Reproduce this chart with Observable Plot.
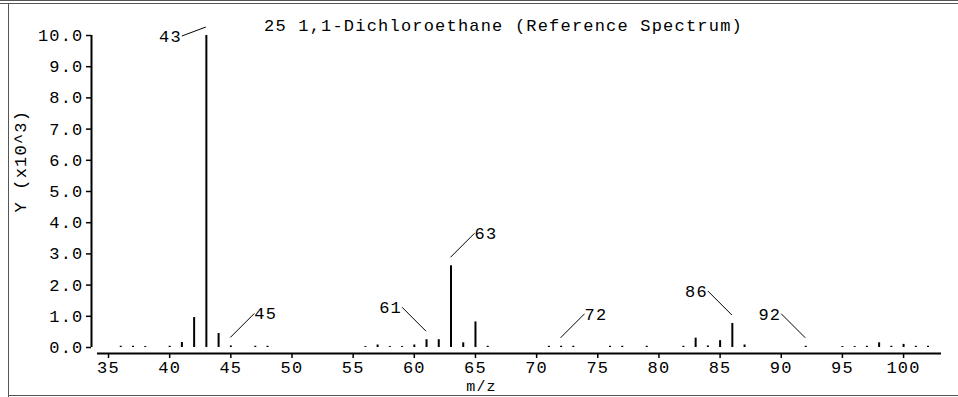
<!DOCTYPE html>
<html>
<head>
<meta charset="utf-8">
<script src="https://cdn.jsdelivr.net/npm/d3@7"></script>
<script src="https://cdn.jsdelivr.net/npm/@observablehq/plot@0.6"></script>
<style>
  html, body { margin: 0; padding: 0; background: #fff; }
  #wrap { position: relative; width: 958px; height: 397px; overflow: hidden; background: #fff; }
  .ln { position: absolute; background: #555; }
</style>
</head>
<body>
<div id="wrap">
  <div class="ln" style="left:0;top:0;width:958px;height:1px;"></div>
  <div class="ln" style="left:0;top:3px;width:958px;height:1px;"></div>
  <div class="ln" style="left:8px;top:3px;width:1px;height:394px;"></div>
  <div class="ln" style="left:8px;top:395px;width:950px;height:1px;"></div>
</div>
<script>
// ---- data ----
const title = "25 1,1-Dichloroethane (Reference Spectrum)";
const xLabel = "m/z";
const yLabel = "Y (x10^3)";
const mz = [36, 37, 38, 40, 41, 42, 43, 44, 45, 47, 48,
            56, 57, 58, 59, 60, 61, 62, 63, 64, 65, 66,
            71, 72, 73, 76, 77, 79, 82, 83, 84, 85, 86, 87,
            92, 95, 96, 97, 98, 99, 100, 101, 102];
const intensity = [0.04, 0.04, 0.03, 0.04, 0.16, 0.96, 10.0, 0.45, 0.05, 0.04, 0.04,
                   0.03, 0.08, 0.03, 0.03, 0.08, 0.25, 0.25, 2.62, 0.15, 0.82, 0.04,
                   0.04, 0.04, 0.04, 0.04, 0.04, 0.04, 0.04, 0.30, 0.05, 0.22, 0.77, 0.08,
                   0.04, 0.03, 0.03, 0.04, 0.15, 0.04, 0.10, 0.04, 0.04];
const labelMz = [43, 45, 61, 63, 72, 86, 92];
const labelSide = ["left", "right", "left", "right", "right", "left", "left"];
const xTicks = [35, 40, 45, 50, 55, 60, 65, 70, 75, 80, 85, 90, 95, 100];
const yTicks = [0, 1, 2, 3, 4, 5, 6, 7, 8, 9, 10];

// ---- build ----
const spectrum = mz.map((m, i) => ({mz: m, value: intensity[i]}));
const labels = labelMz.map((m, i) => ({mz: m, value: intensity[mz.indexOf(m)], side: labelSide[i]}));
const xDomain = [34.1, 103.1];
const yDomain = [-0.192, 10];
const font = "'Liberation Mono', 'DejaVu Sans Mono', monospace";

const leaders = (index, scales) => {
  const g = d3.create("svg:g");
  const x = scales.x, y = scales.y;
  const yTop = y(yDomain[1]);
  for (const d of labels) {
    const dir = d.side === "right" ? 1 : -1;
    const px = x(d.mz);
    const sy = y(d.value) - 8;
    const ex = px + dir * 24;
    const ey = Math.max(sy - 24, yTop + 1);
    g.append("line")
      .attr("x1", px).attr("y1", sy).attr("x2", ex).attr("y2", ey)
      .attr("stroke", "#000").attr("stroke-width", 1);
    g.append("text")
      .attr("x", ex).attr("y", ey)
      .attr("dy", "0.35em")
      .attr("text-anchor", dir > 0 ? "start" : "end")
      .attr("fill", "#000")
      .text(String(d.mz));
  }
  return g.node();
};

const chart = Plot.plot({
  width: 958,
  height: 397,
  marginLeft: 97,
  marginRight: 17,
  marginTop: 35,
  marginBottom: 44,
  x: {domain: xDomain},
  y: {domain: yDomain},
  style: {fontFamily: font, fontSize: "17px", letterSpacing: "1.2px", background: "transparent", color: "#000", overflow: "visible"},
  marks: [
    Plot.ruleY([yDomain[0]], {stroke: "#000", strokeWidth: 2}),
    Plot.ruleX([xDomain[0]], {y1: 0, y2: 10, dx: -6, stroke: "#000", strokeWidth: 2}),
    Plot.axisY(yTicks, {anchor: "left", tickSize: 5, dx: -6, tickPadding: 3, tickFormat: d => d.toFixed(1), label: null, stroke: "#000", strokeWidth: 1.5}),
    Plot.axisX(xTicks, {anchor: "bottom", tickSize: 5, tickPadding: 2, label: null, stroke: "#000", strokeWidth: 1.5}),
    Plot.ruleX(spectrum, {x: "mz", y1: 0, y2: "value", stroke: "#000", strokeWidth: 2}),
    leaders,
    Plot.text([title], {frameAnchor: "top", dx: -16, dy: -17, text: d => d, fill: "#000"}),
    Plot.text([xLabel], {frameAnchor: "bottom", dx: -38, dy: 33, lineAnchor: "middle", text: d => d, fill: "#000", fontSize: 15}),
    Plot.text([yLabel], {frameAnchor: "left", dx: -77, dy: 18, rotate: -90, text: d => d, fill: "#000"})
  ]
});
chart.style.position = "absolute";
chart.style.left = "0px";
chart.style.top = "0px";
document.getElementById("wrap").appendChild(chart);
</script>
</body>
</html>
